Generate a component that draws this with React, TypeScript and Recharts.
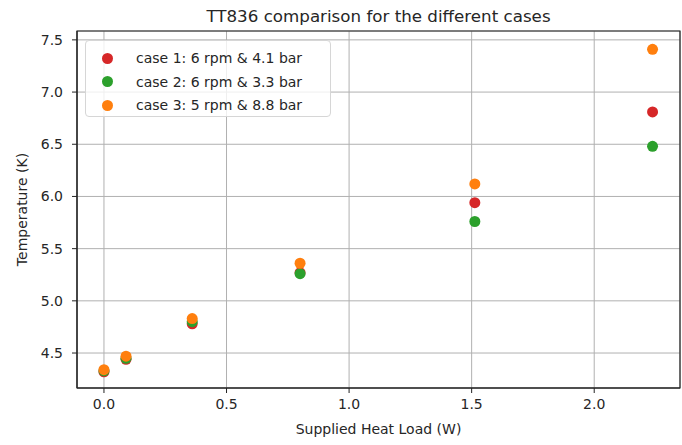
import React from 'react';
import { ScatterChart, Scatter, XAxis, YAxis, CartesianGrid, ReferenceArea } from 'recharts';

const heatLoad = [0, 0.09, 0.36, 0.8, 1.513, 2.238];
const case1 = [4.32, 4.44, 4.78, 5.27, 5.94, 6.81];
const case2 = [4.33, 4.45, 4.8, 5.26, 5.76, 6.48];
const case3 = [4.34, 4.47, 4.83, 5.36, 6.12, 7.41];
const xTicks = [0, 0.5, 1, 1.5, 2];
const yTicks = [4.5, 5, 5.5, 6, 6.5, 7, 7.5];
const xDomain = [-0.11, 2.35];
const yDomain = [4.165, 7.585];

const RED = '#d62728';
const GREEN = '#2ca02c';
const ORANGE = '#ff7f0e';
const FONT = '"DejaVu Sans", sans-serif';

const series = [
  { name: 'case 1: 6 rpm & 4.1 bar', values: case1, color: RED },
  { name: 'case 2: 6 rpm & 3.3 bar', values: case2, color: GREEN },
  { name: 'case 3: 5 rpm & 8.8 bar', values: case3, color: ORANGE },
];

const toPoints = (vals: number[]) => heatLoad.map((x, i) => ({ x, y: vals[i] }));

const dot = (color: string) => (p: any) => <circle cx={p.cx} cy={p.cy} r={5.5} fill={color} />;

const tickStyle = { fontSize: 14, fill: '#262626', fontFamily: FONT };

export default function App() {
  return (
    <div style={{ position: 'absolute', left: 0, top: 0, width: 682, height: 445, background: '#fff', fontFamily: FONT }}>
      <div style={{ position: 'absolute', left: 77, width: 603, top: 6, textAlign: 'center', fontSize: 16.7, color: '#262626' }}>
        TT836 comparison for the different cases
      </div>
      <ScatterChart width={682} height={445} margin={{ top: 31, right: 2, bottom: 0, left: 0 }}>
        <CartesianGrid stroke="#b0b0b0" strokeWidth={1} />
        <XAxis type="number" dataKey="x" domain={xDomain} ticks={xTicks} allowDataOverflow
          tickFormatter={v => v.toFixed(1)} tick={tickStyle} tickSize={5} tickMargin={6}
          stroke="#222" height={57}
          label={{ value: 'Supplied Heat Load (W)', position: 'insideBottom', offset: 11, style: { fontSize: 14, fill: '#262626', fontFamily: FONT } }} />
        <YAxis type="number" dataKey="y" domain={yDomain} ticks={yTicks} allowDataOverflow
          tickFormatter={v => v.toFixed(1)} tick={tickStyle} tickSize={5} tickMargin={9}
          stroke="#222" width={77}
          label={{ value: 'Temperature (K)', angle: -90, position: 'insideLeft', offset: 22, style: { fontSize: 14, fill: '#262626', fontFamily: FONT, textAnchor: 'middle' } }} />
        <ReferenceArea x1={xDomain[0]} x2={xDomain[1]} y1={yDomain[0]} y2={yDomain[1]}
          fill="none" fillOpacity={0} stroke="#222" strokeOpacity={1} strokeWidth={1.2} ifOverflow="visible" />
        {series.map(s => (
          <Scatter key={s.name} name={s.name} data={toPoints(s.values)} fill={s.color}
            shape={dot(s.color)} isAnimationActive={false} />
        ))}
      </ScatterChart>
      <div style={{ position: 'absolute', left: 85, top: 40, width: 246, height: 77, boxSizing: 'border-box', border: '1px solid #d6d6d6', borderRadius: 4, background: 'rgba(255,255,255,0.8)' }}>
        {series.map((s, i) => (
          <div key={s.name} style={{ position: 'absolute', left: 0, top: 6 + i * 23.5, height: 22, display: 'flex', alignItems: 'center', fontSize: 14, color: '#262626', whiteSpace: 'nowrap' }}>
            <span style={{ display: 'inline-block', width: 11, height: 11, borderRadius: '50%', background: s.color, marginLeft: 16, marginRight: 23 }} />
            {s.name}
          </div>
        ))}
      </div>
    </div>
  );
}
